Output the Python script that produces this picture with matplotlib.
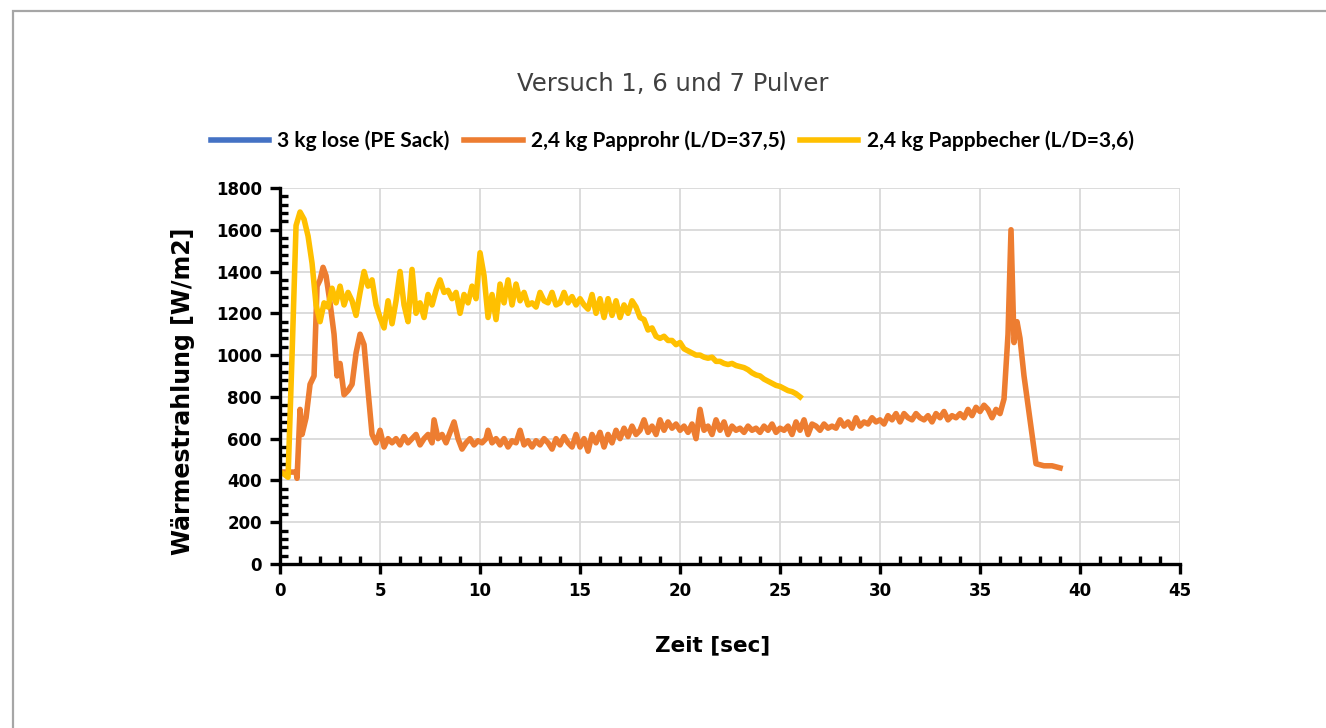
import matplotlib.pyplot as plt
from matplotlib.patches import Rectangle
from matplotlib.ticker import MultipleLocator

plt.rcParams['font.family'] = ['DejaVu Sans']

#data------------------------------------------
series_names = ["3 kg lose (PE Sack)", "2,4 kg Papprohr (L/D=37,5)", "2,4 kg Pappbecher (L/D=3,6)"]

# 3 kg lose: no values shown in the picture
t_lose = []
w_lose = []

t_rohr = [0.0, 0.4, 0.8, 0.85, 1.0, 1.1, 1.3, 1.5, 1.7, 1.85, 2.0, 2.15, 2.3, 2.5, 2.7, 2.85,
          3.0, 3.2, 3.4, 3.6, 3.8, 4.0, 4.2, 4.4, 4.6, 4.8, 5.0, 5.2, 5.4, 5.6, 5.8,
          6.0, 6.2, 6.4, 6.6, 6.8, 7.0, 7.2, 7.4, 7.6, 7.7, 7.9, 8.1, 8.3, 8.5, 8.7, 8.9,
          9.1, 9.3, 9.5, 9.7, 9.9, 10.1, 10.3, 10.4, 10.6, 10.8, 11.0, 11.2, 11.4, 11.6, 11.8,
          12.0, 12.2, 12.4, 12.6, 12.8, 13.0, 13.2, 13.4, 13.6, 13.8, 14.0, 14.2, 14.4, 14.6, 14.8,
          15.0, 15.2, 15.4, 15.6, 15.8, 16.0, 16.2, 16.4, 16.6, 16.8, 17.0, 17.2, 17.4, 17.6, 17.8,
          18.0, 18.2, 18.4, 18.6, 18.8, 19.0, 19.2, 19.4, 19.6, 19.8, 20.0, 20.2, 20.4, 20.6, 20.8,
          21.0, 21.2, 21.4, 21.6, 21.8, 22.0, 22.2, 22.4, 22.6, 22.8, 23.0, 23.2, 23.4, 23.6, 23.8,
          24.0, 24.2, 24.4, 24.6, 24.8, 25.0, 25.2, 25.4, 25.6, 25.8, 26.0, 26.2, 26.4, 26.6, 26.8,
          27.0, 27.2, 27.4, 27.6, 27.8, 28.0, 28.2, 28.4, 28.6, 28.8, 29.0, 29.2, 29.4, 29.6, 29.8,
          30.0, 30.2, 30.4, 30.6, 30.8, 31.0, 31.2, 31.4, 31.6, 31.8, 32.0, 32.2, 32.4, 32.6, 32.8,
          33.0, 33.2, 33.4, 33.6, 33.8, 34.0, 34.2, 34.4, 34.6, 34.8, 35.0, 35.2, 35.4, 35.6, 35.8,
          36.0, 36.2, 36.4, 36.55, 36.7, 36.85, 37.0, 37.2, 37.5, 37.8, 38.2, 38.6, 39.0]
w_rohr = [440, 440, 440, 410, 740, 620, 700, 860, 900, 1330, 1360, 1420, 1380, 1250, 1100, 900,
          960, 810, 830, 860, 1010, 1100, 1050, 830, 620, 580, 640, 560, 600, 580, 600,
          570, 610, 580, 600, 620, 570, 600, 620, 580, 690, 600, 620, 580, 630, 680, 600,
          550, 580, 600, 570, 590, 580, 600, 640, 580, 600, 570, 600, 560, 590, 580,
          640, 570, 590, 560, 590, 570, 600, 580, 550, 600, 570, 610, 580, 560, 620,
          560, 600, 540, 620, 580, 630, 560, 620, 580, 640, 600, 650, 610, 660, 620,
          640, 690, 630, 660, 620, 690, 640, 680, 650, 670, 640, 660, 630, 670, 600,
          740, 640, 660, 620, 690, 640, 680, 620, 660, 640, 650, 630, 660, 640, 650,
          630, 660, 640, 670, 630, 650, 640, 660, 620, 680, 640, 690, 620, 670, 660,
          640, 670, 650, 660, 650, 690, 660, 680, 650, 700, 660, 680, 670, 700, 680,
          690, 670, 710, 690, 720, 680, 720, 700, 690, 720, 700, 690, 710, 680, 720,
          700, 730, 690, 710, 700, 720, 700, 740, 710, 750, 730, 760, 740, 700, 740,
          720, 790, 1100, 1600, 1060, 1160, 1080, 900, 690, 480, 470, 470, 460]

t_becher = [0.0, 0.2, 0.4, 0.6, 0.8, 1.0, 1.2, 1.4, 1.6, 1.8, 2.0, 2.2, 2.4, 2.6, 2.8,
            3.0, 3.2, 3.4, 3.6, 3.8, 4.0, 4.2, 4.4, 4.6, 4.8, 5.0, 5.2, 5.4, 5.6, 5.8,
            6.0, 6.2, 6.4, 6.6, 6.8, 7.0, 7.2, 7.4, 7.6, 7.8, 8.0, 8.2, 8.4, 8.6, 8.8,
            9.0, 9.2, 9.4, 9.6, 9.8, 10.0, 10.2, 10.4, 10.6, 10.8, 11.0, 11.2, 11.4, 11.6, 11.8,
            12.0, 12.2, 12.4, 12.6, 12.8, 13.0, 13.2, 13.4, 13.6, 13.8, 14.0, 14.2, 14.4, 14.6, 14.8,
            15.0, 15.2, 15.4, 15.6, 15.8, 16.0, 16.2, 16.4, 16.6, 16.8, 17.0, 17.2, 17.4, 17.6, 17.8,
            18.0, 18.2, 18.4, 18.6, 18.8, 19.0, 19.2, 19.4, 19.6, 19.8, 20.0, 20.2, 20.4, 20.6, 20.8,
            21.0, 21.2, 21.4, 21.6, 21.8, 22.0, 22.2, 22.4, 22.6, 22.8, 23.0, 23.2, 23.4, 23.6, 23.8,
            24.0, 24.2, 24.4, 24.6, 24.8, 25.0, 25.2, 25.4, 25.6, 25.8, 26.0]
w_becher = [440, 430, 415, 1000, 1620, 1685, 1650, 1570, 1440, 1240, 1160, 1250, 1230, 1320, 1250,
            1330, 1240, 1300, 1260, 1190, 1300, 1400, 1330, 1360, 1240, 1180, 1130, 1260, 1150, 1260,
            1400, 1240, 1160, 1410, 1200, 1250, 1180, 1290, 1240, 1310, 1360, 1300, 1310, 1270, 1300,
            1200, 1290, 1250, 1330, 1270, 1490, 1380, 1180, 1290, 1170, 1340, 1250, 1360, 1240, 1340,
            1260, 1300, 1240, 1250, 1230, 1300, 1260, 1250, 1300, 1240, 1250, 1300, 1250, 1280, 1240,
            1270, 1240, 1220, 1290, 1200, 1270, 1180, 1270, 1190, 1260, 1180, 1240, 1200, 1260, 1230,
            1180, 1170, 1120, 1130, 1090, 1080, 1090, 1070, 1070, 1050, 1060, 1030, 1020, 1010, 1000,
            1000, 990, 985, 990, 970, 970, 960, 955, 960, 950, 945, 940, 930, 915, 905,
            900, 885, 875, 865, 855, 850, 840, 830, 825, 815, 800]

colors = ["#4472C4", "#ED7D31", "#FFC000"]

#figure------------------------
fig = plt.figure(figsize=(13.26, 7.28), dpi=100)
ax = fig.add_axes([0.2112, 0.2253, 0.6787, 0.5165])

ax.plot(t_lose, w_lose, color=colors[0], lw=4.0, label=series_names[0])
ax.plot(t_rohr, w_rohr, color=colors[1], lw=4.0, label=series_names[1], solid_joinstyle='round')
ax.plot(t_becher, w_becher, color=colors[2], lw=4.0, label=series_names[2], solid_joinstyle='round')

ax.set_xlim(0, 45)
ax.set_ylim(0, 1800)
ax.xaxis.set_major_locator(MultipleLocator(5))
ax.xaxis.set_minor_locator(MultipleLocator(1))
ax.yaxis.set_major_locator(MultipleLocator(200))
ax.yaxis.set_minor_locator(MultipleLocator(40))
ax.grid(True, which='major', color='#D9D9D9', lw=1.3)
ax.set_axisbelow(True)

for s in ['top', 'right']:
    ax.spines[s].set_visible(False)
for s in ['left', 'bottom']:
    ax.spines[s].set_linewidth(2.4)
    ax.spines[s].set_color('black')

ax.tick_params(which='major', direction='out', length=7, width=2.4, labelsize=12, pad=6)
ax.tick_params(which='minor', direction='in', length=6, width=2.4)
for lbl in ax.get_xticklabels() + ax.get_yticklabels():
    lbl.set_fontweight('bold')

ax.set_xlabel('Zeit [sec]', fontsize=15.5, fontweight='bold')
ax.set_ylabel('Wärmestrahlung [W/m2]', fontsize=17, fontweight='bold')
ax.xaxis.set_label_coords(0.481, -0.19)
ax.yaxis.set_label_coords(-0.094, 0.46)

fig.text(0.507, 0.885, 'Versuch 1, 6 und 7 Pulver', ha='center', va='center', fontsize=17.5, color='#404040')

fig.legend(loc='center', bbox_to_anchor=(0.507, 0.807), ncol=3, frameon=False,
           prop={'family': 'Lato', 'weight': 'bold', 'size': 15}, handlelength=2.8,
           handletextpad=0.4, columnspacing=0.7)

# gray frame like the original picture
fig.add_artist(Rectangle((13 / 1326, -0.2), 1.5, 1.2 - 11 / 728, transform=fig.transFigure,
                         fill=False, edgecolor='#A6A6A6', lw=1.6, clip_on=False))

plt.savefig("out.png", dpi=100)
